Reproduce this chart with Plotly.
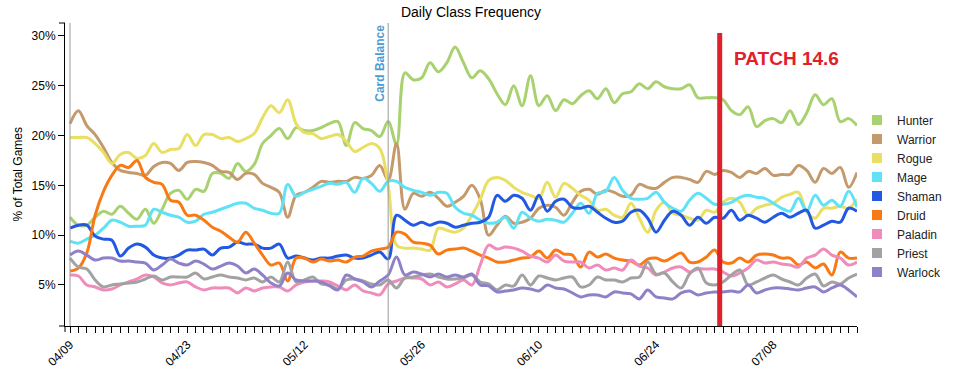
import plotly.graph_objects as go

dates = [
    "04/09", "04/10", "04/11", "04/12", "04/13", "04/14", "04/15", "04/16", "04/17", "04/18",
    "04/19", "04/20", "04/21", "04/22", "04/23", "04/24", "04/25", "04/26", "04/27", "04/28",
    "04/29", "04/30", "05/01", "05/02", "05/03", "05/09", "05/10", "05/11", "05/12", "05/13",
    "05/14", "05/15", "05/16", "05/17", "05/18", "05/19", "05/20", "05/21", "05/22", "05/23",
    "05/24", "05/25", "05/26", "05/27", "05/28", "05/29", "05/30", "05/31", "06/02", "06/03",
    "06/04", "06/05", "06/06", "06/07", "06/08", "06/09", "06/10", "06/11", "06/12", "06/13",
    "06/14", "06/15", "06/16", "06/17", "06/18", "06/19", "06/20", "06/21", "06/22", "06/23",
    "06/24", "06/25", "06/26", "06/27", "06/28", "06/29", "06/30", "07/01", "07/02", "07/03",
    "07/04", "07/05", "07/06", "07/07", "07/08", "07/09", "07/10", "07/11", "07/12", "07/13",
    "07/14", "07/15", "07/16", "07/17", "07/18",
]
tick_labels = ["04/09", "04/23", "05/12", "05/26", "06/10", "06/24", "07/08"]

classes = ["Hunter", "Warrior", "Rogue", "Mage", "Shaman", "Druid", "Paladin", "Priest", "Warlock"]
colors = ["#a8d16f", "#c49a6c", "#e9df62", "#5fe2f5", "#2358e3", "#f97a14", "#ef8cbb", "#a2a2a2", "#9080c8"]

hunter = [11.8, 11.0, 11.0, 11.8, 12.4, 12.1, 12.9, 12.2, 11.6, 12.6,
          11.2, 12.6, 14.2, 14.5, 13.6, 14.6, 14.4, 16.2, 16.2, 15.7,
          17.2, 16.4, 17.1, 19.2, 20.0, 20.7, 19.7, 20.8, 20.5, 20.5,
          20.8, 21.2, 21.4, 19.0, 21.3, 20.7, 20.5, 19.9, 21.4, 19.1,
          26.3, 25.6, 25.8, 27.3, 26.4, 27.3, 28.9, 27.3, 25.8, 26.5,
          25.7, 24.2, 23.1, 25.0, 23.0, 26.0, 23.0, 24.0, 22.5, 23.6,
          23.2, 24.0, 24.5, 23.7, 24.7, 23.3, 24.2, 24.4, 25.2, 24.7,
          25.4, 24.9, 24.7, 24.7, 25.1, 23.8, 23.8, 23.8, 23.6, 22.5,
          22.1, 22.9, 20.9, 21.5, 21.7, 21.3, 22.5, 21.1, 22.3, 24.1,
          23.1, 23.7, 21.4, 21.7, 21.0]
warrior = [21.2, 22.5, 21.0, 20.1, 18.8, 17.3, 16.5, 16.3, 16.2, 16.0,
           16.9, 17.3, 17.2, 16.5, 17.3, 17.4, 17.3, 17.0, 16.4, 16.3,
           15.6, 16.2, 16.1, 15.2, 14.8, 14.3, 11.8, 14.0, 14.3, 14.8,
           15.4, 15.3, 15.4, 15.4, 15.8, 15.7, 16.0, 17.0, 15.5, 19.2,
           12.6, 14.2, 13.9, 14.3, 13.7, 12.9, 13.3, 13.9, 15.0, 13.6,
           10.0, 11.0, 11.9, 11.2, 11.3, 11.7, 12.7, 13.0, 12.8, 12.0,
           13.3, 14.4, 14.6, 14.1, 14.5, 14.3, 13.9, 14.0, 15.1, 14.8,
           14.7, 15.3, 15.8, 15.8, 15.6, 15.3, 16.4, 16.1, 16.5, 16.3,
           15.8, 16.4, 16.2, 16.7, 16.0, 16.1, 16.1, 17.0, 16.5, 15.3,
           16.7, 16.2, 16.8, 14.8, 16.3]
rogue = [19.8, 19.8, 19.8, 19.2, 18.3, 17.2, 18.1, 18.3, 17.7, 18.0,
         19.2, 18.3, 18.6, 18.7, 20.1, 19.0, 20.1, 20.1, 19.7, 19.8,
         19.4, 19.7, 20.2, 21.8, 23.0, 22.3, 23.6, 21.2, 20.3, 20.2,
         19.7, 19.9, 20.1, 19.4, 18.4, 18.8, 19.2, 18.7, 15.0, 9.0,
         8.7, 8.7, 8.6, 8.5, 10.7, 10.5, 10.3, 10.7, 12.0, 13.6,
         15.5, 15.8, 15.5, 14.8, 14.3, 14.0, 13.7, 15.3, 13.8, 15.2,
         14.7, 14.0, 13.5, 12.5, 12.6, 12.0, 11.8, 13.2, 11.7, 10.3,
         12.5, 13.3, 12.2, 12.0, 11.7, 11.5, 12.5, 12.3, 13.3, 13.7,
         13.3, 12.0, 12.7, 13.0, 13.2, 13.8, 14.1, 14.3, 12.3, 11.7,
         12.7, 12.7, 12.9, 12.7, 13.6]
mage = [9.4, 9.2, 9.6, 10.0, 10.7, 11.5, 11.3, 10.9, 10.9, 11.0,
        12.6, 12.3, 12.0, 11.8, 11.3, 11.4, 12.1, 12.3, 12.6, 12.9,
        13.2, 13.2, 12.7, 12.5, 12.2, 12.2, 15.1, 13.9, 14.3, 14.6,
        14.9, 15.2, 15.1, 15.3, 14.3, 15.7, 15.2, 14.4, 15.4, 15.4,
        14.8, 14.5, 14.3, 14.0, 14.3, 14.2, 12.8, 12.2, 12.0, 11.5,
        11.2, 11.3, 11.8, 10.7, 12.3, 11.7, 11.4, 11.6, 11.5, 11.3,
        12.2, 13.2, 12.2, 14.2, 14.4, 15.8, 14.5, 13.7, 13.6, 13.7,
        14.3, 13.3, 12.7, 12.4, 13.5, 14.2, 13.7, 13.1, 13.1, 13.3,
        13.8, 14.0, 13.8, 13.7, 13.2, 12.7, 12.4, 13.7, 12.4, 14.0,
        13.0, 13.5, 12.9, 14.4, 12.8]
shaman = [10.7, 11.0, 11.0, 9.9, 9.6, 9.5, 7.9, 8.7, 9.1, 8.8,
          8.0, 7.7, 7.7, 8.0, 8.5, 8.5, 8.6, 8.0, 8.7, 8.8,
          9.3, 9.1, 9.1, 8.7, 8.7, 9.1, 7.7, 7.9, 7.7, 7.5,
          7.7, 7.7, 7.9, 8.0, 7.7, 7.7, 8.0, 8.3, 7.6, 12.0,
          11.5, 11.0, 11.3, 11.0, 11.3, 11.2, 10.8, 11.0, 11.2, 11.3,
          11.8, 14.0, 13.4, 14.0, 13.7, 12.5, 14.0, 12.4, 13.4, 13.6,
          12.8, 12.7, 12.9, 12.3, 11.7, 11.3, 11.4, 12.3, 12.5, 11.7,
          10.3, 11.5, 12.4, 12.0, 11.0, 11.8, 11.2, 11.8, 11.7, 12.5,
          11.5, 12.0, 11.7, 11.3, 11.8, 12.2, 11.8, 12.2, 12.5, 10.7,
          11.0, 11.4, 11.3, 12.7, 12.4]
druid = [6.4, 6.7, 8.2, 12.0, 14.4, 16.0, 17.0, 16.8, 17.5, 15.8,
         15.3, 15.1, 13.5, 13.3, 12.0, 12.0, 11.5, 10.8, 10.4, 9.8,
         9.3, 10.3, 9.2, 8.0, 7.0, 7.2, 5.4, 7.7, 7.7, 7.3,
         7.6, 7.4, 7.5, 7.3, 7.8, 7.9, 8.4, 8.6, 8.8, 10.3,
         10.1, 9.3, 9.2, 9.0, 8.1, 8.5, 8.6, 8.7, 8.4, 8.0,
         7.7, 7.3, 7.3, 7.5, 7.7, 7.8, 8.4, 7.7, 8.5, 8.1,
         8.0, 6.8, 8.3, 7.8, 8.1, 7.7, 7.5, 7.4, 7.0, 7.6,
         7.7, 7.4, 7.8, 8.2, 7.3, 7.3, 7.8, 8.5, 7.3, 7.2,
         7.7, 7.3, 8.0, 8.1, 8.0, 7.7, 7.7, 7.0, 7.3, 6.7,
         7.1, 6.0, 8.3, 7.7, 7.7]
paladin = [6.0, 5.9, 5.0, 4.8, 4.5, 4.6, 5.0, 5.3, 5.6, 6.0,
           5.8, 5.2, 5.0, 5.2, 5.3, 4.8, 4.5, 4.7, 4.7, 4.7,
           4.2, 4.7, 4.4, 4.7, 4.8, 4.8, 4.4, 5.0, 5.3, 5.4,
           5.4, 5.3, 4.9, 4.5, 5.0, 4.4, 4.2, 4.0, 5.1, 5.4,
           5.7, 5.7, 5.6, 5.0, 5.3, 4.8, 5.1, 5.5, 5.0, 7.0,
           9.0, 8.6, 8.8, 8.7, 8.4, 7.9, 7.7, 7.3, 8.0, 7.4,
           7.3, 7.3, 6.7, 7.0, 6.5, 6.7, 6.5, 7.5, 6.9, 6.7,
           6.0, 6.3, 6.7, 6.8, 6.3, 6.6, 6.6, 6.6, 6.3, 5.9,
           6.2, 6.7, 7.5, 7.2, 7.3, 7.1, 7.0, 6.8, 7.7, 8.0,
           8.6, 8.0, 7.7, 7.0, 7.3]
priest = [7.7, 6.8, 6.6, 5.5, 4.8, 5.0, 5.1, 5.2, 5.3, 5.6,
          5.9, 5.5, 5.8, 5.8, 5.8, 6.2, 5.6, 5.8, 6.0, 5.8,
          5.7, 5.5, 5.7, 5.3, 5.8, 5.3, 7.3, 5.3, 5.5, 5.8,
          5.1, 5.0, 4.6, 5.5, 5.6, 5.4, 5.1, 5.0, 5.5, 4.7,
          5.7, 5.8, 6.0, 6.1, 5.8, 5.6, 5.6, 5.7, 6.0, 5.3,
          5.1, 4.5, 5.0, 4.9, 6.0, 5.0, 5.9, 5.7, 5.5, 5.7,
          5.8, 4.8, 5.0, 5.8, 5.5, 5.5, 5.3, 5.7, 5.8, 7.3,
          6.1, 6.2, 5.3, 4.7, 6.1, 6.7, 5.2, 5.0, 5.3, 6.0,
          6.5, 5.0, 5.3, 5.7, 6.0, 5.6, 5.3, 5.0, 5.7, 6.1,
          4.9, 5.3, 5.1, 5.7, 6.1]
warlock = [8.0, 8.4, 8.0, 7.5, 7.7, 7.7, 7.4, 7.4, 7.3, 7.2,
           6.5, 7.0, 7.6, 7.2, 7.0, 7.4, 7.1, 6.6, 6.9, 7.2,
           6.9, 6.2, 6.6, 6.0, 5.2, 4.9, 6.2, 5.5, 5.4, 5.4,
           5.3, 4.9, 4.5, 6.0, 5.6, 5.3, 4.8, 5.4, 6.0, 7.8,
           6.0, 6.3, 6.1, 5.8, 6.1, 5.8, 6.0, 5.8, 6.1, 5.0,
           4.9, 4.3, 4.4, 4.5, 4.7, 4.6, 4.4, 5.0, 4.7, 4.6,
           4.2, 3.8, 4.0, 4.0, 3.8, 4.3, 4.2, 4.1, 3.6, 4.5,
           3.8, 3.7, 3.6, 4.2, 4.4, 4.0, 4.2, 4.3, 4.3, 4.4,
           4.3, 5.0, 4.2, 4.5, 4.7, 4.7, 4.6, 4.5, 4.7, 4.8,
           4.3, 4.7, 5.0, 4.5, 3.8]

series = [hunter, warrior, rogue, mage, shaman, druid, paladin, priest, warlock]

y_ticks = [5, 10, 15, 20, 25, 30]
event_dates = ["04/09", "05/22"]
event_label = "Card Balance"
patch_label = "PATCH 14.6"
patch_after = "07/01"

FONT = "Liberation Sans, Arial, sans-serif"

fig = go.Figure()
for name, color, vals in zip(classes, colors, series):
    fig.add_trace(go.Scatter(
        x=dates, y=vals, mode="lines", name=name, legendgroup=name, showlegend=False,
        line=dict(color=color, width=3, shape="spline", smoothing=1),
    ))
for name, color in zip(classes, colors):
    fig.add_trace(go.Scatter(
        x=[None], y=[None], mode="markers", name=name, legendgroup=name, showlegend=True,
        marker=dict(symbol="square", size=10, color=color),
    ))

shapes = []
for d in event_dates:
    shapes.append(dict(type="line", xref="x", yref="paper", x0=d, x1=d, y0=0, y1=1,
                       line=dict(color="#999999", width=1)))
patch_x = dates.index(patch_after) + 0.6
shapes.append(dict(type="line", xref="x", yref="paper", x0=patch_x, x1=patch_x, y0=0, y1=0.967,
                   line=dict(color="#e0202b", width=5)))
# outer ticks of the axis domains
for yy in (0, 1):
    shapes.append(dict(type="line", xref="paper", yref="paper", x0=-6 / 792, x1=0, y0=yy, y1=yy,
                       line=dict(color="black", width=1)))
shapes.append(dict(type="line", xref="paper", yref="paper", x0=0, x1=0, y0=0, y1=-6 / 303,
                   line=dict(color="black", width=1)))

annotations = [
    dict(text="<b>" + event_label + "</b>", xref="x", yref="paper", x=event_dates[1], xshift=-9,
         y=0.866, textangle=-90, showarrow=False, xanchor="center", yanchor="middle",
         font=dict(family=FONT, size=12, color="#4b9cd3")),
    dict(text="<b>" + patch_label + "</b>", xref="x", yref="paper", x=patch_x, xshift=12,
         y=0.883, showarrow=False, xanchor="left", yanchor="middle",
         font=dict(family=FONT, size=19, color="#e0202b")),
    dict(text="% of Total Games", xref="paper", yref="paper", x=(17 - 65) / 792, y=0.5,
         textangle=-90, showarrow=False, xanchor="center", yanchor="middle",
         font=dict(family=FONT, size=12, color="black")),
]

fig.update_layout(
    width=958, height=376,
    margin=dict(l=65, r=101, t=23, b=50, autoexpand=False),
    paper_bgcolor="white", plot_bgcolor="white",
    font=dict(family=FONT, size=12, color="black"),
    title=dict(text="Daily Class Frequency", x=471 / 958, xref="container", xanchor="center",
               y=1 - 12 / 376, yref="container", yanchor="middle",
               font=dict(family=FONT, size=14, color="black")),
    xaxis=dict(type="category", categoryorder="array", categoryarray=dates,
               range=[-0.6, len(dates) - 1], automargin=False,
               tickmode="array", tickvals=dates,
               ticktext=[d if d in tick_labels else "" for d in dates],
               tickangle=-45, ticks="outside", ticklen=6, tickcolor="black", tickwidth=1,
               showline=True, linecolor="black", linewidth=1, showgrid=False, zeroline=False,
               tickfont=dict(family=FONT, size=12, color="black")),
    yaxis=dict(range=[0.88, 31.3], automargin=False, tickmode="array", tickvals=y_ticks,
               ticktext=[f"{v}%" for v in y_ticks],
               ticks="outside", ticklen=6, tickcolor="black", tickwidth=1,
               showline=True, linecolor="black", linewidth=1, showgrid=False, zeroline=False,
               tickfont=dict(family=FONT, size=12, color="black")),
    legend=dict(xref="container", yref="container", x=857 / 958, xanchor="left",
                y=1 - 196 / 376, yanchor="middle", tracegroupgap=0,
                font=dict(family=FONT, size=12, color="#222222"),
                bgcolor="rgba(0,0,0,0)"),
    shapes=shapes,
    annotations=annotations,
    showlegend=True,
)

fig.write_html("out.html", config={"displayModeBar": False},
               post_script="document.body.style.margin='0';")
